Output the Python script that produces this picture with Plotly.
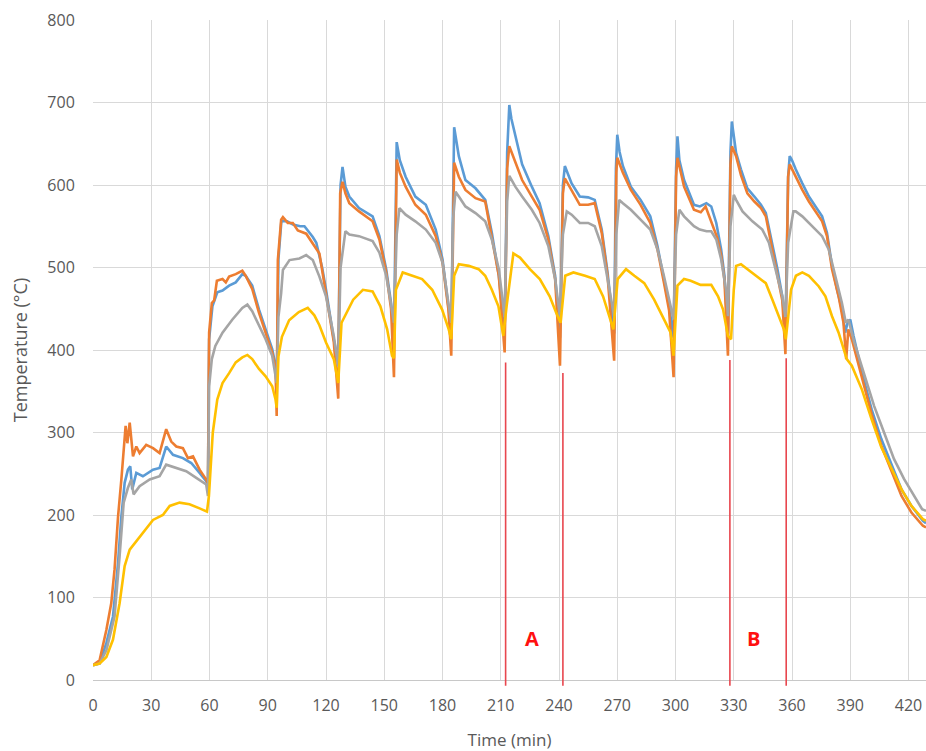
import plotly.graph_objects as go

# ---------------- data ----------------
t_blue = [0, 3.4, 6.9, 10.3, 12.9, 14.6, 16.3, 18, 19.2, 20.2, 22.3, 25.7, 30.9, 34.3, 37.7, 41.2, 46.3, 50.6, 54.9, 58.3, 59.2,
          59.8, 61.5, 64, 66.7, 70.1, 73.5, 76.9, 78.6, 82, 85.5, 88.9, 92.3, 94, 94.6,
          95.5, 97, 100, 103, 106.7, 108.9, 113.2, 115, 118, 120, 124, 126.3,
          127.5, 128.5, 130, 132, 137, 144, 147.5, 151, 153.5, 155,
          156.4, 158, 161, 166, 171.4, 176.5, 180, 183, 184.5,
          186, 188.4, 191.8, 197, 202, 205.4, 209, 212,
          213.3, 214.4, 215.5, 217.5, 221, 226, 230, 234.5, 238, 240.5,
          242, 243, 246.5, 250.7, 255, 258.4, 262, 265, 268.4,
          269.3, 270, 271.2, 272.9, 277, 282, 287, 290.7, 294, 296.7, 299,
          300.3, 301, 302, 304.4, 309.5, 312.5, 315.9, 318.4, 321, 323.5, 325.2, 327,
          328.3, 329, 330, 331.2, 333.7, 337, 340.6, 344, 346.5, 349, 352.5, 355, 356.6,
          358, 358.8, 360, 361.9, 365.3, 368.7, 372.1, 375.5, 378, 380.6, 383.2, 385.7, 387.4, 388.6, 390, 391.7,
          396, 401, 406, 411.3, 416.4, 421.5, 427.4, 429]
v_blue = [18, 20, 45, 77, 142, 198, 239, 255, 259, 231, 251, 247, 255, 257, 283, 273, 269, 263, 251, 241, 236,
          413, 453, 470, 472, 478, 482, 492, 490, 478, 449, 425, 401, 381, 350,
          510, 556, 556, 552, 550, 550, 537, 530, 500, 473, 413, 385,
          600, 622, 598, 586, 572, 562, 538, 498, 457, 420,
          652, 630, 610, 586, 576, 546, 510, 457, 425,
          670, 635, 606, 596, 582, 542, 490, 420,
          640, 697, 680, 659, 625, 598, 578, 538, 490, 415,
          600, 623, 602, 586, 585, 582, 546, 494, 420,
          620, 661, 640, 623, 598, 582, 562, 526, 486, 453, 415,
          620, 659, 630, 606, 576, 574, 578, 574, 554, 522, 490, 420,
          640, 677, 660, 639, 619, 596, 586, 576, 566, 538, 498, 465, 420,
          610, 635, 630, 619, 602, 586, 574, 562, 542, 502, 473, 449, 421, 433, 437, 417,
          373, 328, 292, 260, 231, 211, 193, 190]

t_orange = [0, 3.4, 6.9, 9.4, 11.1, 12.9, 14.6, 15.8, 16.8, 17.7, 18.9, 20.6, 22.3, 24, 27.4, 30.9, 34.3, 37.7, 40.3, 42.9,
            46.3, 48.9, 51.5, 54.9, 58.3, 59.2,
            59.8, 61.2, 62.4, 63.8, 66.7, 68.4, 70.1, 73.5, 76.9, 78.6, 82, 85.5, 88.9, 92.3, 94, 94.6,
            95.2, 96.9, 97.8, 100.3, 102.9, 105.5, 109.8, 113.2, 116.6, 120, 124, 126.3,
            127.3, 128.5, 130, 132, 137, 144, 147.5, 151, 153.5, 155,
            156.4, 158, 161, 166, 171.4, 176.5, 180, 183, 184.5,
            186, 188.4, 191.8, 197, 202, 205.4, 209, 212,
            213.3, 214.4, 217.5, 221, 226, 230, 234.5, 238, 240.5,
            242, 243, 246.5, 250.7, 255, 258.4, 262, 265, 268.4,
            269.5, 270, 272.9, 277, 282, 287, 290.7, 294, 296.7, 299,
            300.3, 301, 304.4, 309.5, 313, 315.5, 318, 321.5, 323.5, 325.2, 327,
            328.3, 329, 331.2, 333.7, 337, 340.6, 344, 346.5, 349, 352.5, 355, 356.6,
            358, 358.8, 361.9, 365.3, 368.7, 372.1, 375.5, 378, 380.6, 384, 386.5, 387.9, 389, 390.8,
            396, 401, 406, 411.3, 416.4, 421.5, 427.4, 429]
v_orange = [18, 24, 61, 93, 134, 198, 243, 283, 308, 287, 312, 271, 283, 275, 285, 281, 275, 304, 289, 283,
            281, 269, 271, 255, 243, 238,
            421, 457, 460, 484, 486, 482, 489, 492, 496, 490, 474, 445, 421, 397, 377, 320,
            509, 558, 561, 554, 554, 545, 541, 529, 517, 468, 410, 341,
            590, 604, 590, 578, 568, 556, 534, 494, 450, 367,
            631, 615, 598, 576, 564, 538, 506, 450, 393,
            627, 610, 594, 584, 580, 538, 490, 397,
            620, 647, 627, 606, 586, 570, 534, 486, 381,
            590, 608, 594, 576, 576, 578, 542, 490, 387,
            615, 633, 615, 594, 576, 554, 522, 482, 448, 367,
            610, 633, 598, 570, 567, 574, 558, 536, 515, 485, 393,
            625, 647, 635, 612, 590, 580, 572, 562, 532, 494, 460, 395,
            610, 625, 610, 594, 580, 568, 556, 538, 498, 465, 433, 389, 425, 413,
            365, 322, 284, 252, 223, 203, 187, 185]

t_gray = [0, 3.4, 6.9, 11.1, 13.7, 15.8, 18, 19.7, 20.9, 24, 29.2, 34.3, 37.7, 42.9, 48, 53.2, 58.3, 59.2,
          59.8, 61.2, 63, 66.7, 71.8, 76.9, 79.5, 82, 85.5, 88.9, 92.3, 94, 94.6,
          95.5, 96.9, 97.8, 101.2, 106.3, 109.8, 113.2, 116.6, 120, 124, 126.3,
          127.5, 130, 132, 137, 144, 147.5, 151, 153.5, 155,
          156.4, 157.8, 161, 166, 171.4, 176.5, 180, 183, 184.5,
          185.5, 186.7, 188.4, 191.8, 197, 202, 205.4, 209, 212,
          213.3, 214.4, 217.5, 221, 226, 230, 234.5, 238, 240.5,
          242, 244, 246.5, 250.7, 255, 258.4, 262, 265, 268.4,
          269.5, 271, 272.9, 277, 282, 287, 290.7, 294, 299,
          300.3, 302, 304.4, 309.5, 312.5, 316, 318.4, 321, 323.5, 326, 327,
          328.3, 330, 331.2, 334.5, 339.6, 344.7, 348.1, 351.5, 355, 356.6,
          358, 360.7, 361.9, 365.3, 370.4, 375.5, 378.9, 382.3, 385.7, 387.7, 389, 392.1,
          397.2, 402.3, 407.4, 412.5, 417.6, 422.7, 427, 429]
v_gray = [18, 20, 36, 77, 150, 215, 233, 243, 225, 235, 243, 247, 261, 257, 253, 245, 237, 223,
          356, 389, 405, 421, 437, 451, 455, 447, 429, 413, 393, 372, 360,
          440, 469, 497, 509, 511, 515, 509, 489, 465, 417, 380,
          500, 544, 540, 538, 532, 518, 490, 455, 433,
          540, 572, 564, 556, 546, 530, 506, 457, 433,
          560, 592, 586, 574, 566, 556, 534, 498, 440,
          580, 611, 598, 586, 570, 554, 526, 486, 440,
          540, 568, 564, 554, 554, 550, 526, 486, 441,
          540, 582, 578, 570, 558, 546, 522, 490, 437,
          540, 570, 562, 550, 546, 544, 544, 534, 510, 473, 441,
          550, 588, 582, 568, 556, 546, 530, 498, 465, 440,
          530, 568, 568, 562, 550, 538, 522, 490, 457, 433, 437, 409,
          369, 332, 300, 268, 244, 223, 207, 205]

t_yellow = [0, 3.4, 6.9, 10.3, 13.7, 16.3, 18.9, 22.3, 25.7, 30.9, 36, 39.5, 44.6, 49.7, 54.9, 58.7,
            59.7, 61.7, 64, 66.7, 70.1, 73.5, 76.9, 79.5, 82, 85.5, 88.9, 92.3, 94, 94.6,
            95.5, 97.3, 101, 106, 110.6, 114, 116.6, 120, 124, 126.3,
            128, 134, 139, 144, 148, 151.5, 154, 155,
            156, 159.5, 164.5, 169.5, 174.7, 179.8, 183.2, 184.5,
            186, 188.4, 193.5, 198.6, 202, 205.4, 208.8, 211.3,
            213, 216.5, 219.9, 225, 230.1, 235.2, 238.6, 240.8,
            243.2, 247.4, 253.4, 258.4, 262.7, 266, 268,
            270.2, 274.5, 278.8, 283.9, 289, 294.1, 297.5, 299,
            301, 304.4, 307.8, 312.9, 318.4, 321.9, 324.5, 327,
            328.6, 330, 331.2, 333.7, 338, 343, 346.5, 349.9, 353.3, 355.8, 356.8,
            359.5, 362, 365.3, 368.7, 373.8, 377.2, 380.6, 384, 387.4, 388.2, 390.8,
            396, 401, 406, 411.3, 416.4, 421.5, 427.4, 429]
v_yellow = [18, 20, 28, 49, 93, 138, 158, 168, 178, 194, 200, 211, 215, 213, 208, 204,
            223, 300, 340, 360, 372, 385, 391, 394, 389, 377, 368, 356, 340, 330,
            392, 416, 436, 446, 451, 442, 430, 409, 389, 360,
            433, 461, 473, 471, 453, 425, 393, 390,
            473, 494, 490, 486, 473, 449, 425, 413,
            490, 504, 502, 498, 490, 473, 453, 417,
            453, 517, 512, 498, 486, 465, 445, 433,
            490, 494, 490, 486, 465, 441, 425,
            486, 498, 490, 481, 461, 437, 421, 393,
            478, 486, 484, 479, 479, 465, 449, 417,
            413, 473, 502, 504, 496, 487, 481, 461, 441, 425, 413,
            473, 490, 494, 490, 477, 465, 441, 421, 397, 389, 381,
            352, 316, 282, 256, 231, 211, 195, 193]

marker_times = [212.5, 242, 328, 357]
marker_tops = [385, 372, 388, 390]
zone_labels = ["A", "B"]
zone_label_x = [226, 340]
zone_label_y = [50, 50]

x_ticks = list(range(0, 421, 30))
y_ticks = list(range(0, 801, 100))
X_MAX = 429
Y_MAX = 800

# ---------------- figure ----------------
series = [
    (t_blue, v_blue, "#5B9BD5"),
    (t_orange, v_orange, "#ED7D31"),
    (t_gray, v_gray, "#A5A5A5"),
    (t_yellow, v_yellow, "#FFC000"),
]

fig = go.Figure()
for t, v, c in series:
    fig.add_trace(go.Scatter(x=t, y=v, mode="lines", line=dict(color=c, width=2.6),
                             showlegend=False, hoverinfo="skip"))

shapes = []
for xt, top in zip(marker_times, marker_tops):
    shapes.append(dict(type="line", xref="x", yref="paper", x0=xt, x1=xt,
                       y0=-7 / Y_MAX, y1=top / Y_MAX,
                       line=dict(color="#E8464E", width=1.6), layer="above"))

annotations = []
for lab, lx, ly in zip(zone_labels, zone_label_x, zone_label_y):
    annotations.append(dict(x=lx, y=ly, xref="x", yref="y", text="<b>%s</b>" % lab,
                            showarrow=False, font=dict(color="#FF1010", size=20, family="Open Sans")))

font_fam = "Open Sans"
fig.update_layout(
    width=926, height=751,
    margin=dict(l=93, r=0, t=20, b=71),
    paper_bgcolor="white", plot_bgcolor="white",
    shapes=shapes, annotations=annotations,
    font=dict(family=font_fam, color="#595959", size=14),
    xaxis=dict(range=[0, X_MAX], tickvals=x_ticks, showgrid=True, gridcolor="#D9D9D9", gridwidth=1.2,
               zeroline=False, showline=True, linecolor="#C8C8C8", linewidth=1.2,
               ticks="outside", ticklen=11, tickcolor="rgba(0,0,0,0)",
               tickfont=dict(size=16, color="#595959"),
               title=dict(text="Time (min)", font=dict(size=17, color="#595959"), standoff=20)),
    yaxis=dict(range=[0, Y_MAX], tickvals=y_ticks, showgrid=True, gridcolor="#D9D9D9", gridwidth=1.2,
               zeroline=False, showline=False,
               ticks="outside", ticklen=14, tickcolor="rgba(0,0,0,0)",
               tickfont=dict(size=16, color="#595959"),
               title=dict(text="Temperature (°C)", font=dict(size=18, color="#595959"), standoff=15)),
)

post = ("document.documentElement.style.margin='0';document.body.style.margin='0';"
        "document.documentElement.style.overflow='hidden';document.body.style.overflow='hidden';")
fig.write_html("out.html", post_script=post, config={"displayModeBar": False})
